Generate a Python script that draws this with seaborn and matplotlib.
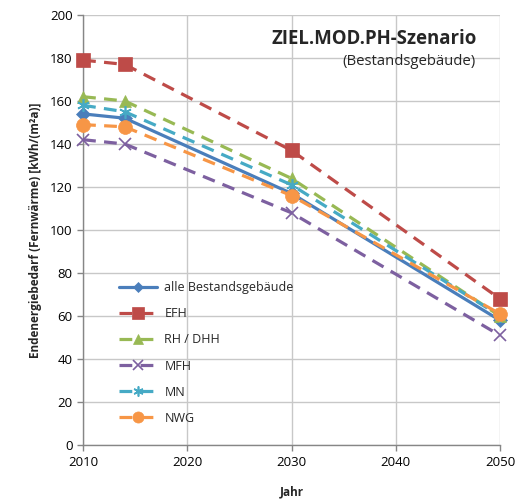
import matplotlib
matplotlib.use("Agg")
import matplotlib.pyplot as plt
import seaborn as sns
import pandas as pd

years = [2010, 2014, 2030, 2050]
series_names = ["alle Bestandsgebäude", "EFH", "RH / DHH", "MFH", "MN", "NWG"]
alle = [154, 152, 117, 58]
efh = [179, 177, 137, 68]
rh_dhh = [162, 160, 124, 60]
mfh = [142, 140, 108, 51]
mn = [158, 155, 121, 60]
nwg = [149, 148, 116, 61]
values = [alle, efh, rh_dhh, mfh, mn, nwg]

colors = ["#4A7EBB", "#BE4B48", "#98B954", "#7D60A0", "#46AAC5", "#F79646"]
markers = ["D", "s", "^", "x", (6, 2, 0), "o"]
msizes = [7, 10, 9, 9, 9, 10]
styles = ["-", "--", "--", "--", "--", "--"]

sns.set_theme(style="white")
plt.rcParams["font.family"] = ["Open Sans", "DejaVu Sans"]

fig = plt.figure(figsize=(5.16, 4.99), dpi=100)
ax = fig.add_axes([0.161, 0.108, 0.808, 0.862])

for name, vals, c, m, ms, ls in zip(series_names, values, colors, markers, msizes, styles):
    df = pd.DataFrame({"Jahr": years, "Wert": vals})
    sns.lineplot(data=df, x="Jahr", y="Wert", ax=ax, color=c, marker=m,
                 markersize=ms, linewidth=2.3, label=name,
                 markeredgecolor=c, markeredgewidth=1.2 if m in ("x", (6, 2, 0)) else 0.5,
                 clip_on=False, zorder=3)
    ln = ax.lines[-1]
    if ls == "--":
        ln.set_dashes((4, 2.6))

ax.set_xlim(2010, 2050)
ax.set_ylim(0, 200)
ax.set_xticks(range(2010, 2051, 10))
ax.set_yticks(range(0, 201, 20))
ax.grid(True, color="#C8C8C8", linewidth=1.0)
ax.set_axisbelow(True)
for s in ["top", "right"]:
    ax.spines[s].set_visible(False)
for s in ["left", "bottom"]:
    ax.spines[s].set_color("#868686")
    ax.spines[s].set_linewidth(1.0)
ax.tick_params(axis="both", which="major", labelsize=9.5, colors="#000000",
               length=4, width=1.0, direction="out", left=True, bottom=True)
ax.tick_params(axis="both", color="#868686")

ax.set_xlabel("Jahr", fontsize=8.5, fontweight="bold", labelpad=12)
ax.set_ylabel("Endenergiebedarf (Fernwärme) [kWh/(m²a)]", fontsize=8.5, fontweight="bold", labelpad=6)

ax.text(0.945, 0.944, "ZIEL.MOD.PH-Szenario", transform=ax.transAxes, ha="right", va="center",
        fontsize=13.4, fontweight="bold")
ax.text(0.941, 0.891, "(Bestandsgebäude)", transform=ax.transAxes, ha="right", va="center",
        fontsize=10.7)

leg = ax.legend(loc="lower left", bbox_to_anchor=(0.06, 0.021), frameon=False, fontsize=9,
                handlelength=3.0, labelspacing=1.05, handletextpad=0.6, markerscale=0.8)

fig.savefig("out.png", dpi=100)
